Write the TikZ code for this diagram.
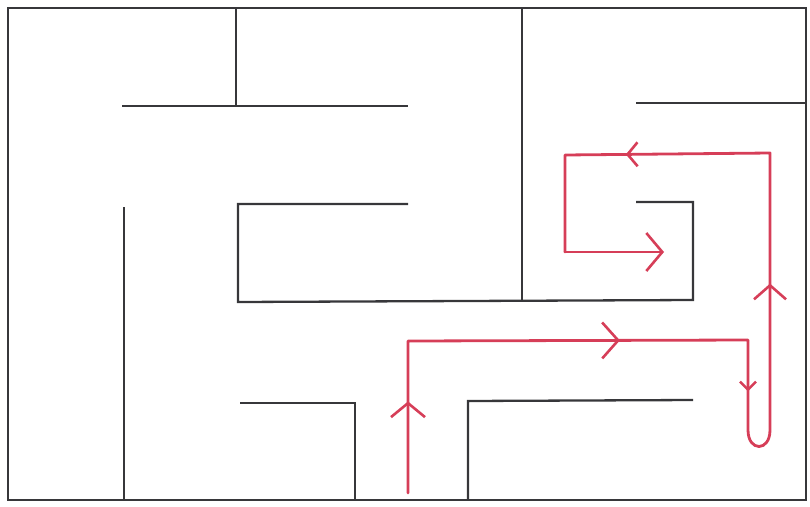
\documentclass[tikz,border=0pt]{standalone}
\usetikzlibrary{arrows.meta,decorations.markings}
\definecolor{pen}{RGB}{214,62,88}
\definecolor{ink}{RGB}{55,55,58}
\tikzset{
  wall/.style={draw=ink,line width=2.3pt},
  route/.style={draw=pen,line width=2.8pt,line join=round,line cap=round},
}
\begin{document}
\begin{tikzpicture}[x=1pt,y=-1pt]
\useasboundingbox (0,0) rectangle (810,506);
% outer frame
\draw[wall] (8,8) rectangle (806,500);
% walls
\draw[wall] (236,8) -- (236,106);
\draw[wall] (122,106) -- (408,106);
\draw[wall] (124,207) -- (124,500);
\draw[wall] (408,204) -- (238,204) -- (238,302) -- (693,300) -- (693,202) -- (636,202);
\draw[wall] (522,7) -- (522,301);
\draw[wall] (636,103) -- (806,103);
\draw[wall] (240,403) -- (355,403) -- (355,500);
\draw[wall] (468,500) -- (468,401) -- (693,400);
% route
\coordinate (s) at (408,493);
\coordinate (c1) at (408,341);
\coordinate (c2) at (748,340);
\coordinate (c3) at (748,430);
\coordinate (c4) at (770,430);
\coordinate (c5) at (770,153);
\coordinate (c6) at (565,155);
\coordinate (c7) at (565,252);
\coordinate (e) at (664,252);
\draw[route,postaction={decorate},decoration={markings,
   mark=at position 0.076 with {\arrow{Straight Barb[length=14pt,width=34pt,line width=2.6pt]}},
   mark=at position 0.302 with {\arrow{Straight Barb[length=16pt,width=36pt,line width=2.6pt]}},
   mark=at position 0.451 with {\arrow{Straight Barb[length=8pt,width=16pt,line width=2.6pt]}},
   mark=at position 0.641 with {\arrow{Straight Barb[length=14pt,width=32pt,line width=2.6pt]}},
   mark=at position 0.869 with {\arrow{Straight Barb[length=10pt,width=24pt,line width=2.6pt]}}}]
  (s) -- (c1) -- (c2) -- (c3) .. controls (748,452) and (770,452) .. (c4) -- (c5) -- (c6) -- (c7);
\draw[route,-{Straight Barb[length=16pt,width=38pt,line width=2.6pt]}] (c7) -- (e);
\end{tikzpicture}
\end{document}
